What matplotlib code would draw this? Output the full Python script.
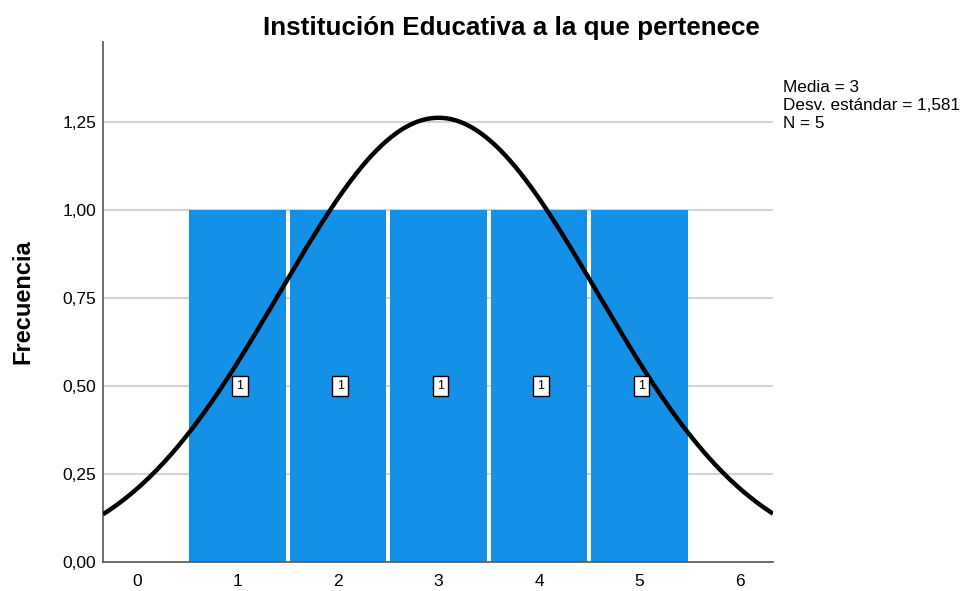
import numpy as np
import matplotlib.pyplot as plt

plt.rcParams['font.family'] = ['Liberation Sans', 'DejaVu Sans']

# data
categories = [1, 2, 3, 4, 5]
frecuencia = [1, 1, 1, 1, 1]
media = 3
desv = 1.581
n = 5
yticks = [0.0, 0.25, 0.5, 0.75, 1.0, 1.25]
xticks = [0, 1, 2, 3, 4, 5, 6]

fig = plt.figure(figsize=(9.71, 5.91), dpi=100)
ax = fig.add_axes([0.1061, 0.0491, 0.69, 0.8799])

ax.set_xlim(-0.34, 6.33)
ax.set_ylim(0, 1.477)

for y in yticks[1:]:
    ax.axhline(y, color='#d4d4d4', lw=1.5, zorder=0)

ax.bar(categories, frecuencia, width=0.96, color='#1490e6',
       linewidth=0, zorder=2)

for x, f in zip(categories, frecuencia):
    ax.text(x + 0.02, f / 2, str(f), ha='center', va='center', fontsize=9,
            bbox=dict(boxstyle='square,pad=0.35', fc='white', ec='black', lw=1),
            zorder=4)

xs = np.linspace(-0.34, 6.33, 400)
ys = n * 1.0 / (desv * np.sqrt(2 * np.pi)) * np.exp(-0.5 * ((xs - media) / desv) ** 2)
ax.plot(xs, ys, color='black', lw=3.2, zorder=3, solid_capstyle='butt')

ax.set_xticks(xticks)
ax.set_xticklabels([str(v) for v in xticks])
ax.set_yticks(yticks)
ax.set_yticklabels([f'{v:.2f}'.replace('.', ',') for v in yticks])
ax.tick_params(length=0, labelsize=12.5)
ax.tick_params(axis='y', pad=5)
ax.tick_params(axis='x', pad=9)

for s in ['top', 'right']:
    ax.spines[s].set_visible(False)
for s in ['left', 'bottom']:
    ax.spines[s].set_color('#555555')
    ax.spines[s].set_linewidth(1.2)

ax.set_ylabel('Frecuencia', fontsize=17, fontweight='bold', labelpad=20)
fig.text(0.527, 0.952, 'Institución Educativa a la que pertenece', ha='center',
         va='center', fontsize=18.7, fontweight='bold')

stats = [f'Media = {media}', 'Desv. estándar = ' + f'{desv:.3f}'.replace('.', ','), f'N = {n}']
for i, line in enumerate(stats):
    fig.text(0.806, 1 - (88 + 17.5 * i) / 591, line, ha='left', va='center', fontsize=12.3)

fig.savefig('out.png', dpi=100)
